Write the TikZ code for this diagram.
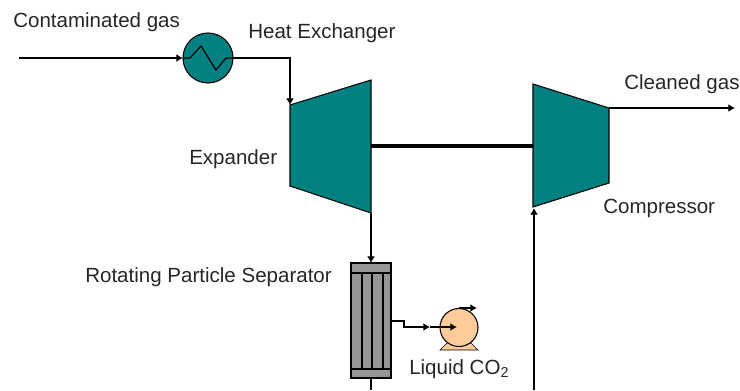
\documentclass[tikz,border=0pt]{standalone}
\usepackage{fontspec}
\setmainfont{Liberation Sans}
\usetikzlibrary{arrows.meta}
\definecolor{tealfill}{HTML}{008080}
\definecolor{sepgray}{HTML}{969696}
\definecolor{pumpfill}{HTML}{FFCC99}
\definecolor{labeltext}{HTML}{262626}
\tikzset{
  flow/.style={draw=black,line width=0.9pt},
  tipline/.style={flow,-{Latex[length=5pt,width=6pt]}},
  machine/.style={fill=tealfill,draw=black,line width=0.8pt,line join=miter},
  lbl/.style={inner sep=0pt,font=\fontsize{15.4pt}{18pt}\selectfont,text=labeltext,anchor=base west},
}
\begin{document}
\begin{tikzpicture}[x=0.75pt,y=-0.75pt]
\useasboundingbox (0,0) rectangle (740,390);
% coordinates
\coordinate (inlet) at (19,58);
\coordinate (hxin) at (183,58);
\coordinate (hxout) at (233,58);
\coordinate (bend) at (290,58);
\coordinate (exptop) at (290,105);
\coordinate (expbot) at (371,213);
\coordinate (shaftL) at (371,146);
\coordinate (shaftR) at (533,146);
\coordinate (compout) at (609,108);
\coordinate (outlet) at (735,108);
\coordinate (compin) at (534,208);
\coordinate (compfeed) at (534,390);
\coordinate (septop) at (371,263);
\coordinate (sepbot) at (371,378);
\coordinate (sepdrain) at (371,390);
\coordinate (sepout) at (391,321);
\coordinate (pumparrow) at (430,327);
\coordinate (pumpcentre) at (457,327);
\coordinate (pumpoutA) at (459,308);
\coordinate (pumpoutB) at (477,308);
% expander, compressor
\path[machine] (exptop) -- (371,80) -- (expbot) -- (290,186) -- cycle;
\path[machine] (533,84) -- (compout) -- (609,183) -- (533,207) -- cycle;
% shaft
\draw[line width=3pt] (shaftL) -- (shaftR);
% heat exchanger
\node[circle,fill=tealfill,draw=black,line width=0.8pt,minimum size=37.5pt,inner sep=0pt] (hx) at (208,58) {};
\draw[flow,line join=round] (hxin) -- (190,58) -- (201,46) -- (216,70) -- (226,58) -- (hxout);
% lines
\draw[tipline] (inlet) -- (hxin);
\draw[tipline] (hxout) -- (bend) -- (exptop);
\draw[tipline] (compout) -- (outlet);
\draw[tipline] (compfeed) -- (compin);
\draw[tipline] (expbot) -- (septop);
% separator
\node[rectangle,fill=sepgray,draw=black,line width=0.8pt,minimum width=30pt,minimum height=86.25pt,inner sep=0pt] (sep) at (371,320.5) {};
\draw[flow] (351,273) -- (391,273);
\draw[flow] (351,369) -- (391,369);
\draw[flow] (362,273) -- (362,369);
\draw[flow] (372,273) -- (372,369);
\draw[flow] (383,273) -- (383,369);
\draw[flow] (sepbot) -- (sepdrain);
% pump
\path[fill=pumpfill,draw=black,line width=0.5pt] (440,350) -- (447,343) -- (471,343) -- (478,350) -- cycle;
\node[circle,fill=pumpfill,draw=black,line width=0.8pt,minimum size=28.5pt,inner sep=0pt] (pump) at (459,327.5) {};
\draw[tipline] (pumpoutA) -- (pumpoutB);
\draw[tipline] (sepout) -- (404,321) -- (404,327) -- (pumparrow);
\draw[tipline] (pumparrow) -- (pumpcentre);
% labels
\node[lbl] (t1) at (13,27) {Contaminated gas};
\node[lbl] (t2) at (248,38) {Heat Exchanger};
\node[lbl] (t3) at (624,89) {Cleaned gas};
\node[lbl] (t4) at (189,164) {Expander};
\node[lbl] (t5) at (603,213) {Compressor};
\node[lbl] (t6) at (85,282) {Rotating Particle Separator};
\node[lbl] (t7) at (409,374) {Liquid CO\textsubscript{2}};
\end{tikzpicture}
\end{document}
